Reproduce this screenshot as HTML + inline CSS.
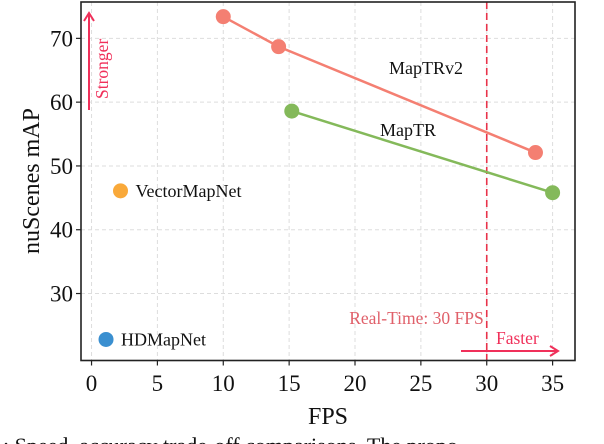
<!DOCTYPE html>
<html><head><meta charset="utf-8"><style>
html,body{margin:0;padding:0;background:#fff;width:604px;height:444px;overflow:hidden}
svg{display:block;font-family:"Liberation Serif",serif}
</style></head><body>
<svg id="chart" width="604" height="444" viewBox="0 0 604 444" xmlns="http://www.w3.org/2000/svg">
<g id="grid"></g>
<g id="ann"></g>
<g id="series"></g>
<rect x="81" y="2" width="494" height="358.5" fill="none" stroke="#222" stroke-width="1.6"/>
<g id="axes"></g>
<text x="328" y="424" font-size="24" text-anchor="middle" fill="#111">FPS</text>
<text transform="translate(39,181) rotate(-90)" font-size="24" text-anchor="middle" fill="#111">nuScenes mAP</text>
<text x="-8" y="453" font-size="22" fill="#111">1: Speed–accuracy trade-off comparisons. The propo</text>
</svg>
<script>
const xTicks=[0,5,10,15,20,25,30,35];
const yTicks=[30,40,50,60,70];
const mapTRv2Fps=[10,14.2,33.7];
const mapTRv2Map=[73.4,68.7,52.1];
const mapTRFps=[15.2,35];
const mapTRMap=[58.6,45.8];
const singleNames=["VectorMapNet","HDMapNet"];
const singleFps=[2.2,1.1];
const singleMap=[46.1,22.8];
const realTimeFps=30;
const NS="http://www.w3.org/2000/svg";
const X0=81,X1=575,Y0=360.5,Y1=2,xMin=-0.8,xMax=36.7,yMin=19.5,yMax=75.7;
const sx=v=>X0+(v-xMin)/(xMax-xMin)*(X1-X0);
const sy=v=>Y0-(v-yMin)/(yMax-yMin)*(Y0-Y1);
function mk(tag,attrs,parent,txt){const e=document.createElementNS(NS,tag);for(const k in attrs)e.setAttribute(k,attrs[k]);if(txt!==undefined)e.textContent=txt;parent.appendChild(e);return e;}
const grid=document.getElementById('grid'),axes=document.getElementById('axes'),ser=document.getElementById('series'),ann=document.getElementById('ann');
xTicks.forEach(t=>{
 const g=mk('line',{x1:sx(t),x2:sx(t),y1:Y1,y2:Y0,stroke:'#ddd','stroke-dasharray':'4,3','stroke-width':1},grid);
 
 const tk=mk('line',{x1:sx(t),x2:sx(t),y1:Y0,y2:Y0+5,stroke:'#222','stroke-width':1.2},axes);
 
 const l=mk('text',{x:sx(t),y:391,'font-size':23,'text-anchor':'middle',fill:'#111'},axes,String(t));
 
});
yTicks.forEach(t=>{
 const g=mk('line',{x1:X0,x2:X1,y1:sy(t),y2:sy(t),stroke:'#ddd','stroke-dasharray':'4,3','stroke-width':1},grid);
 
 const tk=mk('line',{x1:X0-5,x2:X0,y1:sy(t),y2:sy(t),stroke:'#222','stroke-width':1.2},axes);
 
 const l=mk('text',{x:73,y:sy(t)+8,'font-size':23,'text-anchor':'end',fill:'#111'},axes,String(t));
 
});
const rt=mk('line',{x1:sx(realTimeFps),x2:sx(realTimeFps),y1:Y1,y2:Y0,stroke:'#e8334a','stroke-dasharray':'7,4','stroke-width':1.6},ann);

const rtl=mk('text',{x:sx(realTimeFps)-3,y:324,'font-size':17.5,'text-anchor':'end',fill:'#e0606a'},ann,'Real-Time: 30 FPS');

const fa=mk('path',{d:'M461 351 H558 M550 346 L558 351 L550 356',stroke:'#f0305a','stroke-width':2,fill:'none'},ann);

const ft=mk('text',{x:496,y:344,'font-size':17.5,fill:'#f0305a'},ann,'Faster');

const sa=mk('path',{d:'M89 110 V13 M84 21 L89 13 L94 21',stroke:'#f0305a','stroke-width':2,fill:'none'},ann);

const st=mk('text',{transform:'translate(108,99) rotate(-90)','font-size':17.5,fill:'#f0305a'},ann,'Stronger');

function line(fps,map,color,name,lx,ly){
 const p=mk('polyline',{points:fps.map((f,i)=>sx(f)+','+sy(map[i])).join(' '),stroke:color,'stroke-width':2.5,fill:'none'},ser);
 
 fps.forEach((f,i)=>{const c=mk('circle',{cx:sx(f),cy:sy(map[i]),r:7.5,fill:color},ser);
  });
 const t=mk('text',{x:lx,y:ly,'font-size':18,fill:'#111'},ser,name==='maptrv2'?'MapTRv2':'MapTR');
 
}
line(mapTRv2Fps,mapTRv2Map,'#f47f72','maptrv2',389,74);
line(mapTRFps,mapTRMap,'#84b95a','maptr',380,136);
const cols=['#f9a93a','#3a8fd0'];
singleNames.forEach((n,i)=>{
 const c=mk('circle',{cx:sx(singleFps[i]),cy:sy(singleMap[i]),r:7.5,fill:cols[i]},ser);
 
 const t=mk('text',{x:sx(singleFps[i])+15,y:sy(singleMap[i])+6,'font-size':18,fill:'#111'},ser,n);
 
});
</script>
</body></html>
